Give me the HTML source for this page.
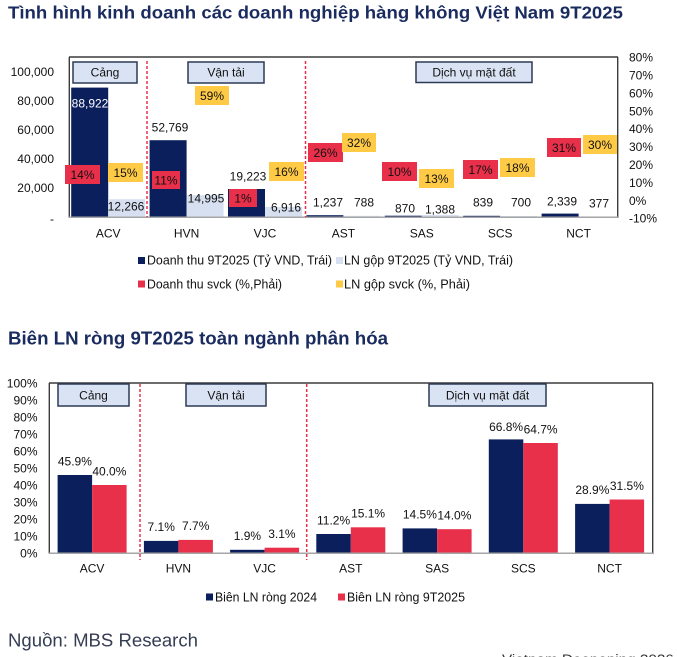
<!DOCTYPE html>
<html><head><meta charset="utf-8">
<style>
html,body{margin:0;padding:0;background:#fff;}
svg{display:block;}
text{font-family:"Liberation Sans",Arial,sans-serif;}
</style></head>
<body>
<svg width="677" height="657" viewBox="0 0 677 657" xmlns="http://www.w3.org/2000/svg">
<rect width="677" height="657" fill="#fff"/>
<!-- Title 1 -->
<text x="8" y="18.5" font-size="17.5" font-weight="bold" fill="#1a2b5f" textLength="615" lengthAdjust="spacingAndGlyphs">Tình hình kinh doanh các doanh nghiệp hàng không Việt Nam 9T2025</text>

<!-- Top chart frame -->
<line x1="69" y1="57" x2="618" y2="57" stroke="#3c3c3c" stroke-width="1.4"/>
<line x1="69.3" y1="57" x2="69.3" y2="217.5" stroke="#3c3c3c" stroke-width="1.4"/>
<line x1="617.7" y1="57" x2="617.7" y2="218" stroke="#3c3c3c" stroke-width="1.4"/>

<!-- Top bars -->
<g fill="#0b1f5c">
<rect x="71.2" y="87.6" width="37" height="129.4"/>
<rect x="149.6" y="140.2" width="37" height="76.8"/>
<rect x="228" y="189" width="37" height="28"/>
<rect x="306.4" y="215.2" width="37" height="1.8"/>
<rect x="384.8" y="215.7" width="37" height="1.3"/>
<rect x="463.2" y="215.8" width="37" height="1.2"/>
<rect x="541.6" y="213.6" width="37" height="3.4"/>
</g>
<g fill="#d7e0f1">
<rect x="108.2" y="199.2" width="37" height="17.8"/>
<rect x="186.6" y="195.2" width="37" height="21.8"/>
<rect x="265" y="206.9" width="37" height="10.1"/>
<rect x="343.4" y="215.8" width="37" height="1.2"/>
<rect x="421.8" y="215" width="37" height="2"/>
<rect x="500.2" y="216" width="37" height="1"/>
<rect x="578.6" y="216.4" width="37" height="0.6"/>
</g>
<line x1="69" y1="217.3" x2="618" y2="217.3" stroke="#a6a6a6" stroke-width="1.5"/>

<!-- dashed separators -->
<g stroke="#e8304b" stroke-width="1.5" stroke-dasharray="3,2">
<line x1="147" y1="61" x2="147" y2="217"/>
<line x1="305.5" y1="61" x2="305.5" y2="217"/>
</g>

<!-- group boxes top -->
<g fill="#dae3f3" stroke="#2b3a57" stroke-width="1.5">
<rect x="73" y="62" width="64" height="21"/>
<rect x="188" y="62" width="76" height="21"/>
<rect x="416" y="62" width="116" height="20.5"/>
</g>
<g font-size="12" fill="#111" text-anchor="middle">
<text x="105" y="76.5">Cảng</text>
<text x="226" y="76.5">Vận tải</text>
<text x="474" y="76.5">Dịch vụ mặt đất</text>
</g>

<!-- left axis -->
<g font-size="12" fill="#111" text-anchor="end">
<text x="54" y="75.8">100,000</text>
<text x="54" y="104.9">80,000</text>
<text x="54" y="134">60,000</text>
<text x="54" y="163.1">40,000</text>
<text x="54" y="192.2">20,000</text>
<text x="54" y="223">-</text>
</g>
<!-- right axis -->
<g font-size="12" fill="#111" text-anchor="start">
<text x="629" y="61.6">80%</text>
<text x="629" y="79.5">70%</text>
<text x="629" y="97.4">60%</text>
<text x="629" y="115.3">50%</text>
<text x="629" y="133.2">40%</text>
<text x="629" y="151.1">30%</text>
<text x="629" y="169">20%</text>
<text x="629" y="186.9">10%</text>
<text x="629" y="204.8">0%</text>
<text x="629" y="222.7">-10%</text>
</g>

<!-- value labels top -->
<g font-size="12" fill="#111" text-anchor="middle">
<text x="90" y="107.3" fill="#fff">88,922</text>
<text x="126" y="210.3">12,266</text>
<text x="170" y="131.3">52,769</text>
<text x="206" y="202.3">14,995</text>
<text x="248" y="180.3">19,223</text>
<text x="286" y="211.3">6,916</text>
<text x="328" y="206.3">1,237</text>
<text x="364" y="206.3">788</text>
<text x="405" y="212.3">870</text>
<text x="440" y="213.3">1,388</text>
<text x="483" y="206.3">839</text>
<text x="521" y="206.3">700</text>
<text x="562" y="205.3">2,339</text>
<text x="599" y="207.3">377</text>
</g>

<!-- percent boxes -->
<g fill="#e8304b">
<rect x="65" y="165" width="35" height="19"/>
<rect x="152" y="171" width="28" height="18"/>
<rect x="229" y="189" width="28" height="18"/>
<rect x="308" y="143" width="35" height="19"/>
<rect x="382" y="162" width="35" height="19"/>
<rect x="463" y="160" width="35" height="19"/>
<rect x="547" y="138" width="34" height="19"/>
</g>
<g fill="#ffcb47">
<rect x="108" y="163" width="35" height="19"/>
<rect x="195" y="86" width="34" height="19"/>
<rect x="269" y="162" width="35" height="19"/>
<rect x="342" y="133" width="34" height="19"/>
<rect x="419" y="169" width="35" height="19"/>
<rect x="500" y="158" width="35" height="19"/>
<rect x="583" y="135" width="34" height="19"/>
</g>
<g font-size="12" fill="#111" text-anchor="middle">
<text x="82.5" y="178.8">14%</text>
<text x="166" y="184.3">11%</text>
<text x="243" y="202.3">1%</text>
<text x="325.5" y="156.8">26%</text>
<text x="399.5" y="175.8">10%</text>
<text x="480.5" y="173.8">17%</text>
<text x="564" y="151.8">31%</text>
<text x="125.5" y="176.8">15%</text>
<text x="212" y="99.8">59%</text>
<text x="286.5" y="175.8">16%</text>
<text x="359" y="146.8">32%</text>
<text x="436.5" y="182.8">13%</text>
<text x="517.5" y="171.8">18%</text>
<text x="600" y="148.8">30%</text>
</g>

<!-- categories top -->
<g font-size="12" fill="#111" text-anchor="middle">
<text x="108.2" y="237.3">ACV</text>
<text x="186.6" y="237.3">HVN</text>
<text x="265" y="237.3">VJC</text>
<text x="343.4" y="237.3">AST</text>
<text x="421.8" y="237.3">SAS</text>
<text x="500.2" y="237.3">SCS</text>
<text x="578.6" y="237.3">NCT</text>
</g>

<!-- legend top -->
<rect x="138" y="257" width="7" height="7" fill="#0b1f5c"/>
<text x="147" y="264.5" font-size="12.5" fill="#111" textLength="185" lengthAdjust="spacingAndGlyphs">Doanh thu 9T2025 (Tỷ VND, Trái)</text>
<rect x="336" y="257" width="7" height="7" fill="#d7e0f1"/>
<text x="344" y="264.5" font-size="12.5" fill="#111" textLength="169" lengthAdjust="spacingAndGlyphs">LN gộp 9T2025 (Tỷ VND, Trái)</text>
<rect x="138" y="280.5" width="7" height="7" fill="#e8304b"/>
<text x="147" y="288.3" font-size="12.5" fill="#111" textLength="135" lengthAdjust="spacingAndGlyphs">Doanh thu svck (%,Phải)</text>
<rect x="336" y="280.5" width="7" height="7" fill="#ffcb47"/>
<text x="344" y="288.3" font-size="12.5" fill="#111" textLength="126" lengthAdjust="spacingAndGlyphs">LN gộp svck (%, Phải)</text>

<!-- Title 2 -->
<text x="8" y="344.5" font-size="18" font-weight="bold" fill="#1a2b5f" textLength="380" lengthAdjust="spacingAndGlyphs">Biên LN ròng 9T2025 toàn ngành phân hóa</text>

<!-- Bottom chart frame -->
<line x1="49" y1="383" x2="653" y2="383" stroke="#3c3c3c" stroke-width="1.4"/>
<line x1="49.3" y1="383" x2="49.3" y2="553.5" stroke="#3c3c3c" stroke-width="1.4"/>
<line x1="652.7" y1="383" x2="652.7" y2="554" stroke="#3c3c3c" stroke-width="1.4"/>

<!-- bottom bars -->
<g fill="#0b1f5c">
<rect x="57.6" y="475" width="34.5" height="78"/>
<rect x="143.9" y="540.9" width="34.5" height="12.1"/>
<rect x="230.1" y="549.8" width="34.5" height="3.2"/>
<rect x="316.3" y="534" width="34.5" height="19"/>
<rect x="402.6" y="528.4" width="34.5" height="24.6"/>
<rect x="488.8" y="439.4" width="34.5" height="113.6"/>
<rect x="575.1" y="503.9" width="34.5" height="49.1"/>
</g>
<g fill="#e8304b">
<rect x="92.1" y="485" width="34.5" height="68"/>
<rect x="178.4" y="539.9" width="34.5" height="13.1"/>
<rect x="264.6" y="547.7" width="34.5" height="5.3"/>
<rect x="350.8" y="527.3" width="34.5" height="25.7"/>
<rect x="437.1" y="529.2" width="34.5" height="23.8"/>
<rect x="523.3" y="443" width="34.5" height="110"/>
<rect x="609.6" y="499.5" width="34.5" height="53.5"/>
</g>
<line x1="49" y1="553.3" x2="653" y2="553.3" stroke="#a6a6a6" stroke-width="1.5"/>

<g stroke="#e8304b" stroke-width="1.5" stroke-dasharray="3,2">
<line x1="140" y1="384" x2="140" y2="560"/>
<line x1="306.7" y1="384" x2="306.7" y2="560"/>
</g>

<g fill="#dae3f3" stroke="#2b3a57" stroke-width="1.5">
<rect x="58" y="384" width="71" height="22"/>
<rect x="186" y="384" width="80" height="22"/>
<rect x="429" y="384" width="117" height="22"/>
</g>
<g font-size="12" fill="#111" text-anchor="middle">
<text x="93.5" y="399.3">Cảng</text>
<text x="226" y="399.3">Vận tải</text>
<text x="487.5" y="399.3">Dịch vụ mặt đất</text>
</g>

<!-- bottom y axis -->
<g font-size="12" fill="#111" text-anchor="end">
<text x="37.5" y="387.3">100%</text>
<text x="37.5" y="404.3">90%</text>
<text x="37.5" y="421.3">80%</text>
<text x="37.5" y="438.3">70%</text>
<text x="37.5" y="455.3">60%</text>
<text x="37.5" y="472.3">50%</text>
<text x="37.5" y="489.3">40%</text>
<text x="37.5" y="506.3">30%</text>
<text x="37.5" y="523.3">20%</text>
<text x="37.5" y="540.3">10%</text>
<text x="37.5" y="557.3">0%</text>
</g>

<!-- bottom value labels -->
<g font-size="12" fill="#111" text-anchor="middle">
<text x="74.9" y="465.3">45.9%</text>
<text x="109.4" y="475.3">40.0%</text>
<text x="161.2" y="531.2">7.1%</text>
<text x="195.7" y="530.2">7.7%</text>
<text x="247.4" y="540.1">1.9%</text>
<text x="281.9" y="538">3.1%</text>
<text x="333.6" y="524.3">11.2%</text>
<text x="368.1" y="517.6">15.1%</text>
<text x="419.9" y="518.7">14.5%</text>
<text x="454.4" y="519.5">14.0%</text>
<text x="506.1" y="431">66.8%</text>
<text x="540.6" y="433.3">64.7%</text>
<text x="592.4" y="494.2">28.9%</text>
<text x="626.9" y="489.8">31.5%</text>
</g>

<!-- bottom categories -->
<g font-size="12" fill="#111" text-anchor="middle">
<text x="92.1" y="572.3">ACV</text>
<text x="178.4" y="572.3">HVN</text>
<text x="264.6" y="572.3">VJC</text>
<text x="350.8" y="572.3">AST</text>
<text x="437.1" y="572.3">SAS</text>
<text x="523.3" y="572.3">SCS</text>
<text x="609.6" y="572.3">NCT</text>
</g>

<!-- bottom legend -->
<rect x="206" y="593.5" width="7" height="7" fill="#0b1f5c"/>
<text x="215" y="601.3" font-size="12.5" fill="#111" textLength="102" lengthAdjust="spacingAndGlyphs">Biên LN ròng 2024</text>
<rect x="338" y="593.5" width="7" height="7" fill="#e8304b"/>
<text x="347" y="601.3" font-size="12.5" fill="#111" textLength="118" lengthAdjust="spacingAndGlyphs">Biên LN ròng 9T2025</text>

<!-- source -->
<text x="8" y="646.5" font-size="18" fill="#343d52" textLength="190" lengthAdjust="spacingAndGlyphs">Nguồn: MBS Research</text>
<text x="502" y="663.5" font-size="13" fill="#333" textLength="180" lengthAdjust="spacingAndGlyphs">Vietnam Deepening 2026 |</text>
</svg>
</body></html>
